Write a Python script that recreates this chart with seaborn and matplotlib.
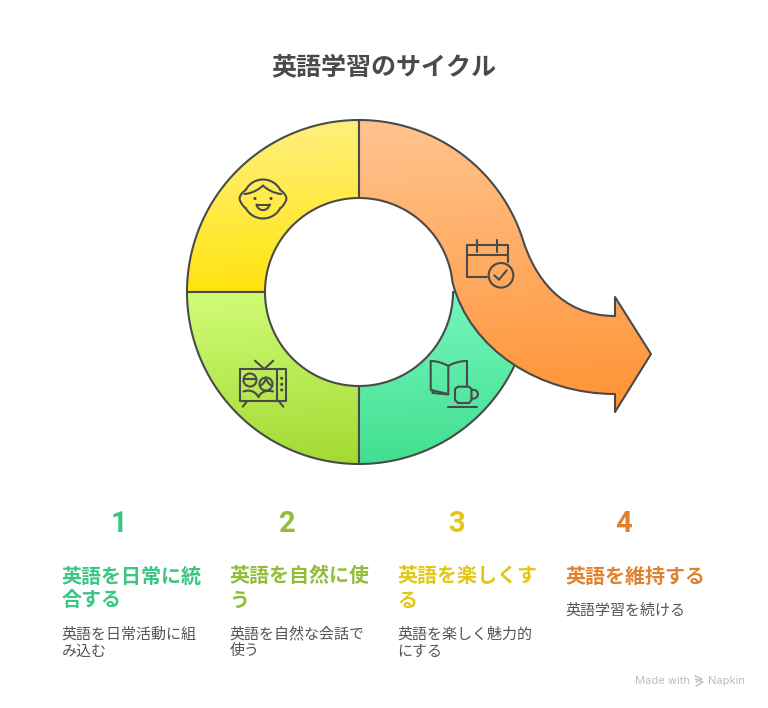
import numpy as np
import matplotlib
matplotlib.use("Agg")
import matplotlib.pyplot as plt
from matplotlib.path import Path
from matplotlib.patches import PathPatch, Circle
import seaborn as sns

title = "英語学習のサイクル"
numbers = ["1", "2", "3", "4"]
headings = [["英語を日常に統", "合する"], ["英語を自然に使", "う"], ["英語を楽しくす", "る"], ["英語を維持する"]]
bodies = [["英語を日常活動に組", "み込む"], ["英語を自然な会話で", "使う"], ["英語を楽しく魅力的", "にする"], ["英語学習を続ける"]]
step_colors = ["#3CC583", "#92BD39", "#E3C714", "#E0812E"]
text_x = [61.5, 229.5, 397.5, 565.5]
number_x = [119, 287.5, 456, 624]

yellow_grad = ["#FFF080", "#FFE40C"]
lime_grad = ["#CFFB75", "#A3DB34"]
teal_grad = ["#75F6BC", "#41DF8F"]
orange_grad = ["#FFC28D", "#FF9436"]

line_col = "#4A4A4A"
cx, cy, r_out, r_in = 359, 292, 172, 94

sns.set_theme(style="white")
plt.rcParams["font.family"] = ["Noto Sans CJK JP", "DejaVu Sans"]

fig = plt.figure(figsize=(7.68, 7.08), dpi=100)
ax = fig.add_axes([0, 0, 1, 1])
sns.despine(ax=ax, left=True, bottom=True)
ax.set_xticks([])
ax.set_yticks([])


def arc(r, t0, t1, c=(cx, cy), n=80):
    # t in degrees, clockwise from 12 o'clock
    t = np.radians(np.linspace(t0, t1, n))
    return np.column_stack([c[0] + r * np.sin(t), c[1] - r * np.cos(t)])


def gradient_shape(verts, codes, colors, z, lw=1.5):
    path = Path(verts, codes)
    patch = PathPatch(path, fc="none", ec=line_col, lw=lw, joinstyle="round", zorder=z + 0.5)
    ext = path.get_extents()
    x0, x1, y0, y1 = ext.x0, ext.x1, ext.y0, ext.y1
    yy, xx = np.mgrid[0:1:200j, 0:1:200j]
    cmap = sns.blend_palette(colors, as_cmap=True)
    im = ax.imshow(yy + 0.06 * (xx - 0.5), extent=(x0, x1, y1, y0), cmap=cmap, vmin=0, vmax=1,
                   aspect="auto", zorder=z, interpolation="bilinear")
    ax.add_patch(patch)
    im.set_clip_path(patch)
    return patch


def sector(t0, t1, colors, z):
    pts = np.vstack([arc(r_out, t0, t1), arc(r_in, t1, t0)])
    codes = [Path.MOVETO] + [Path.LINETO] * (len(pts) - 1)
    pts = np.vstack([pts, pts[0]])
    codes.append(Path.CLOSEPOLY)
    gradient_shape(pts, codes, colors, z)


def stroke(xs, ys, lw=1.5, color=line_col, z=9):
    ax.plot(xs, ys, color=color, lw=lw, solid_capstyle="round", solid_joinstyle="round", zorder=z)


def curve(verts, lw=1.5, color=line_col, z=9):
    # cubic bezier pieces: start, then 3 points each
    codes = [Path.MOVETO] + [Path.CURVE4] * (len(verts) - 1)
    ax.add_patch(PathPatch(Path(verts, codes), fc="none", ec=color, lw=lw, capstyle="round", zorder=z))


def ring(x, y, r, lw=1.5, fc="none"):
    ax.add_patch(Circle((x, y), r, fc=fc, ec=line_col, lw=lw, zorder=9))


sector(270, 360, yellow_grad, 2)
sector(180, 270, lime_grad, 3)
sector(90, 180, teal_grad, 4)

# orange arrow
outer = arc(r_out, 0, 72.4)
inner = arc(r_in, 84, 0)
arrow_v = list(map(tuple, outer))
arrow_c = [Path.MOVETO] + [Path.LINETO] * (len(outer) - 1)
arrow_v += [(534, 275), (560, 316), (615, 316)]
arrow_c += [Path.CURVE4] * 3
arrow_v += [(615, 297), (651, 354), (615, 412), (615, 394)]
arrow_c += [Path.LINETO] * 4
arrow_v += [(540, 394), (470, 350), tuple(inner[0])]
arrow_c += [Path.CURVE4] * 3
arrow_v += list(map(tuple, inner[1:]))
arrow_c += [Path.LINETO] * (len(inner) - 1)
arrow_v.append(arrow_v[0])
arrow_c.append(Path.CLOSEPOLY)
gradient_shape(arrow_v, arrow_c, orange_grad, 5)

# face icon
head_top = arc(19.5, -62, 62, c=(263, 199))
head_low = arc(19.5, 118, 242, c=(263, 199))
stroke(head_top[:, 0], head_top[:, 1])
stroke(head_low[:, 0], head_low[:, 1])
curve([(245.8, 189.8), (241.5, 193), (238.5, 197), (240, 200.5), (241, 203), (243, 206.5), (245.8, 208.2)])
curve([(280.2, 189.8), (284.5, 193), (287.5, 197), (286, 200.5), (285, 203), (283, 206.5), (280.2, 208.2)])
curve([(244.5, 194), (252, 193.5), (259, 189.5), (263, 185.5), (267, 189.5), (274, 193.5), (281.5, 194)])
ring(255, 198.5, 0.7, lw=1.2, fc=line_col)
ring(271, 198.5, 0.7, lw=1.2, fc=line_col)
curve([(256.5, 204.5), (258, 212), (268, 212), (269.5, 204.5)])
stroke([256.5, 269.5], [204.5, 204.5])

# tv icon
stroke([240, 286, 286, 240, 240], [369, 369, 401, 401, 369])
stroke([276.7, 276.7], [369, 401])
stroke([255, 264.3, 273.3], [360.7, 369, 360.7])
stroke([246.7, 242.7], [401.7, 406.7])
stroke([279.3, 283.3], [401.7, 406.7])
for dot_y in [378.3, 384.3, 390]:
    ring(281.7, dot_y, 0.8, lw=1.1, fc=line_col)
ring(250, 380, 6.5)
stroke([244, 256], [379, 379])
ring(266, 384, 6.5)
curve([(260, 386), (263, 384), (265, 382), (266, 378), (267, 382), (269, 384), (272, 386)])
curve([(243.5, 391.5), (250, 389), (256, 392), (258.5, 397)])
curve([(258.5, 397), (261, 391), (268, 390), (273, 391.5)])

# book and cup icon
curve([(430.7, 361), (437, 361), (443, 363), (448.3, 366)])
curve([(448.3, 366), (453, 363), (460, 361), (466.7, 361)])
stroke([430.7, 430.7, 448.3, 448.3], [361, 390, 394, 366])
stroke([466.7, 466.7], [361, 385])
stroke([432.5, 432.5, 448.3], [390, 393, 394.5])
stroke([458, 469, 471.5, 471.5, 469, 458, 455, 455, 458], [386.7, 386.7, 389, 400, 403, 403, 400, 389, 386.7])
curve([(471.5, 390), (480, 388), (480, 400), (471.5, 398.5)])
stroke([448.3, 477.3], [406.5, 406.5])

# calendar icon
stroke([486.7, 467.3, 467.3, 507.7, 507.7], [277, 277, 244.7, 244.7, 262])
stroke([467.3, 507.7], [254.7, 254.7])
stroke([476.7, 476.7], [240.3, 252])
stroke([497.3, 497.3], [240.3, 252])
ring(501, 275.3, 12.3)
stroke([494.3, 499, 506.7], [275.3, 279.7, 270.3])

ax.text(384, 74, title, ha="center", va="baseline", fontsize=18, fontweight="bold", color=line_col)

for i in range(4):
    ax.text(number_x[i], 532.5, numbers[i], ha="center", va="baseline", fontsize=21, fontweight="bold",
            family="Roboto", color=step_colors[i])
    y = 582.5
    for line in headings[i]:
        ax.text(text_x[i], y, line, ha="left", va="baseline", fontsize=14.4, fontweight="bold", color=step_colors[i])
        y += 24
    y = y + 8
    for line in bodies[i]:
        ax.text(text_x[i], y, line, ha="left", va="baseline", fontsize=10.8, color="#555555")
        y += 17

# watermark
mark = "#BDBDBD"
ax.text(635, 684, "Made with", ha="left", va="baseline", fontsize=8, family="Inter", color=mark)
ax.text(708, 684, "Napkin", ha="left", va="baseline", fontsize=8, family="Inter", color=mark)
stroke([695, 702, 696], [676, 679, 682], lw=1, color=mark)
stroke([695.5, 703, 696], [679, 682, 686], lw=1, color=mark)

ax.set_xlim(0, 768)
ax.set_ylim(708, 0)
fig.savefig("out.png", dpi=100, facecolor="white")
